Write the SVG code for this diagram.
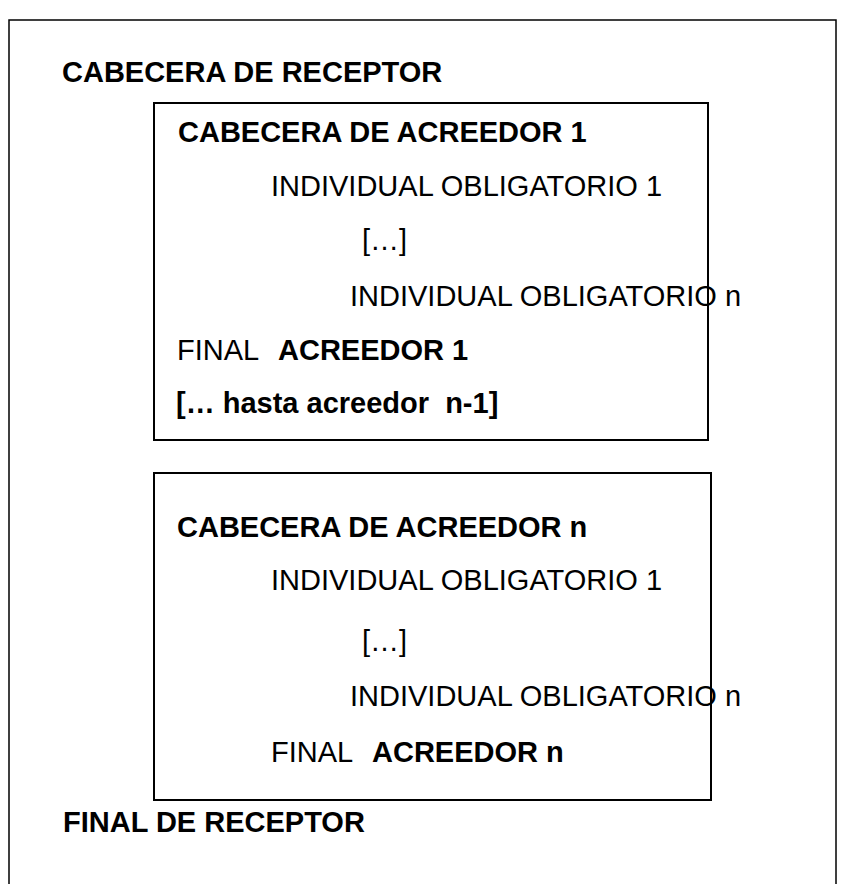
<svg xmlns="http://www.w3.org/2000/svg" width="841" height="884" viewBox="0 0 841 884">
<style>
.t{font-family:"Liberation Sans",Arial,sans-serif;fill:#000;font-size:29px}
.b{font-weight:bold}
.box{fill:none;stroke:#000;stroke-width:2}
.outer{fill:none;stroke:#000;stroke-width:1.5}
</style>
<rect width="841" height="884" fill="#fff"/>
<g id="receptor">
<rect class="outer" x="9" y="20" width="827" height="880"/>
<text class="t b" x="62" y="82">CABECERA DE RECEPTOR</text>
<text class="t b" x="63" y="832">FINAL DE RECEPTOR</text>
</g>
<g id="acreedor1">
<rect class="box" x="154" y="103" width="554" height="337"/>
<text class="t b" x="178" y="142">CABECERA DE ACREEDOR 1</text>
<text class="t" x="271" y="196">INDIVIDUAL OBLIGATORIO 1</text>
<text class="t" x="362" y="250">[…]</text>
<text class="t" x="350" y="306">INDIVIDUAL OBLIGATORIO n</text>
<text class="t" x="177" y="360">FINAL</text>
<text class="t b" x="278" y="360">ACREEDOR 1</text>
<text class="t b" x="176" y="413" xml:space="preserve" style="white-space:pre">[… hasta acreedor  n-1]</text>
</g>
<g id="acreedorN">
<rect class="box" x="154" y="473" width="557" height="327"/>
<text class="t b" x="177" y="537">CABECERA DE ACREEDOR n</text>
<text class="t" x="271" y="590">INDIVIDUAL OBLIGATORIO 1</text>
<text class="t" x="362" y="651">[…]</text>
<text class="t" x="350" y="706">INDIVIDUAL OBLIGATORIO n</text>
<text class="t" x="271" y="762">FINAL</text>
<text class="t b" x="372" y="762">ACREEDOR n</text>
</g>
<g id="connectors"/>
</svg>
